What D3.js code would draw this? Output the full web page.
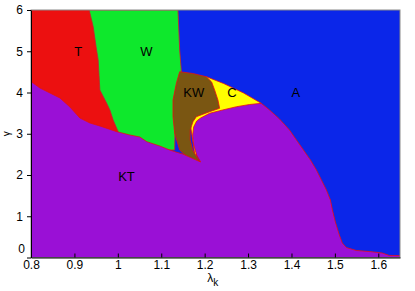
<!DOCTYPE html>
<html><head><meta charset="utf-8">
<script src="https://cdn.jsdelivr.net/npm/d3@7/dist/d3.min.js"></script>
<style>body{margin:0;background:#fff}svg{display:block}text{font-family:"Liberation Sans",Arial,sans-serif}</style>
</head><body><svg id="c" width="415" height="291"></svg>
<script>
const xTicks=[0.8,0.9,1,1.1,1.2,1.3,1.4,1.5,1.6];
const yTicks=[0,1,2,3,4,5,6];
const xDomain=[0.8,1.65], yDomain=[0,6];
// region boundaries [lambda_k, gamma]
const regionA=[[0.8,0],[1.65,0],[1.65,6],[0.8,6]];
const regionT=[[0.8,6],[0.934,6],[0.9432,5.595],[0.951,5.03],[0.9547,4.788],[0.9586,4.061],[0.974,3.745],[0.9816,3.576],[0.9892,3.333],[1.0007,3.05],[1.0161,2.606],[1.0161,2.4],[0.8,2.4]];
const regionW=[[0.934,6],[1.1386,6],[1.1425,5.03],[1.1464,4.504],[1.1333,4.061],[1.131,2.606],[1.0161,2.606],[1.0007,3.05],[0.9892,3.333],[0.9816,3.576],[0.974,3.745],[0.9586,4.061],[0.9547,4.788],[0.951,5.03],[0.9432,5.595]];
const regionC=[[1.2039,4.383],[1.2437,4.218],[1.2897,3.988],[1.3303,3.738],[1.2805,3.455],[1.1885,3.212],[1.1793,2.364],[1.1655,3.333],[1.1885,4.303]];
const regionKW=[[1.1425,4.504],[1.1724,4.461],[1.2039,4.383],[1.2161,4.255],[1.223,4.061],[1.2306,3.818],[1.2345,3.617],[1.2115,3.535],[1.1809,3.413],[1.1731,3.292],[1.1667,3.091],[1.1667,2.848],[1.1724,2.606],[1.1862,2.364],[1.1908,2.315],[1.1701,2.364],[1.1501,2.526],[1.1425,2.606],[1.131,3.011],[1.1271,3.413],[1.1271,3.818],[1.1349,4.223]];
const regionKT=[[0.8,4.267],[0.8207,4.109],[0.8437,3.988],[0.8667,3.867],[0.8897,3.648],[0.9126,3.382],[0.9356,3.261],[0.9586,3.188],[0.9977,3.05],[1.0276,2.97],[1.0506,2.921],[1.0667,2.807],[1.0966,2.703],[1.1195,2.606],[1.1333,2.558],[1.1494,2.509],[1.1701,2.412],[1.1908,2.315],
 [1.1816,2.485],[1.1747,2.727],[1.1724,2.97],[1.1747,3.164],[1.1816,3.309],[1.1908,3.382],[1.2115,3.496],[1.2414,3.576],[1.2736,3.656],[1.3034,3.709],[1.3303,3.738],
 [1.3494,3.576],[1.3724,3.358],[1.3954,3.091],[1.4115,2.848],[1.4276,2.606],[1.4437,2.364],[1.4575,2.121],[1.469,1.879],[1.4805,1.636],[1.4897,1.394],[1.4943,1.152],[1.5011,0.861],[1.5103,0.545],[1.5172,0.352],[1.5264,0.242],[1.5494,0.17],[1.5793,0.145],[1.6092,0.109],[1.6253,0.048],[1.65,0.044],[1.65,0],[0.8,0]];
const regionLabels=[["T",0.909,4.885],["W",1.066,4.885],["KW",1.175,3.891],["C",1.263,3.891],["A",1.410,3.884],["KT",1.020,1.862]];

const W=415,H=291,m={l:31,t:10,r:15,b:33.5};
const svg=d3.select("#c");
const x=d3.scaleLinear().domain(xDomain).range([m.l,W-m.r]);
const y=d3.scaleLinear().domain(yDomain).range([H-m.b,m.t]);
svg.append("clipPath").attr("id","clip").append("rect").attr("x",m.l).attr("y",m.t).attr("width",W-m.r-m.l).attr("height",H-m.b-m.t);
const g=svg.append("g").attr("clip-path","url(#clip)");
const line=d3.line().x(d=>x(d[0])).y(d=>y(d[1]));
const regs=[[regionA,"#0b26e9",null],[regionT,"#ec1010",null],[regionW,"#0ee82c","#d82020"],[regionC,"#ffff00","#e81010"],[regionKW,"#7a5612","#e81010"],[regionKT,"#9a10d6","#e81010"]];
regs.forEach(([d,f,s])=>{g.append("path").attr("d",line(d)+"Z").attr("fill",f).attr("stroke",s||"none").attr("stroke-width",0.8);});
svg.append("rect").attr("x",m.l).attr("y",m.t).attr("width",W-m.r-m.l).attr("height",H-m.b-m.t).attr("fill","none").attr("stroke","#8a8a8a").attr("stroke-width",1);
const xa=svg.append("g").attr("transform",`translate(0,${H-m.b})`).call(d3.axisBottom(x).tickValues(xTicks).tickFormat(d3.format("~g")).tickSizeInner(-4).tickSizeOuter(0).tickPadding(3));
const ya=svg.append("g").attr("transform",`translate(${m.l},0)`).call(d3.axisLeft(y).tickValues(yTicks).tickFormat(d3.format("~g")).tickSizeInner(4).tickSizeOuter(0).tickPadding(4));
[xa,ya].forEach(a=>{a.selectAll("text").attr("font-size",12).attr("fill","#000").attr("font-family","Liberation Sans, Arial, sans-serif");a.select(".domain").attr("stroke","#000");a.selectAll(".tick line").attr("stroke","#000");});
ya.selectAll(".tick").filter(d=>d===0).select("text").attr("dy","-0.4em").attr("x",-6);
regionLabels.forEach(([t,lx,ly])=>svg.append("text").attr("x",x(lx)).attr("y",y(ly)).attr("text-anchor","middle").attr("font-size",13).attr("fill","#000").text(t));
const xl=svg.append("text").attr("x",x(1.2)+8).attr("y",282).attr("text-anchor","middle").attr("font-size",12);
xl.append("tspan").text("λ");
xl.append("tspan").attr("font-size",10).attr("dy",4).text("k");
svg.append("text").attr("transform",`translate(10,${y(3)}) rotate(-90)`).attr("text-anchor","middle").attr("font-size",10).text("γ");
</script></body></html>
